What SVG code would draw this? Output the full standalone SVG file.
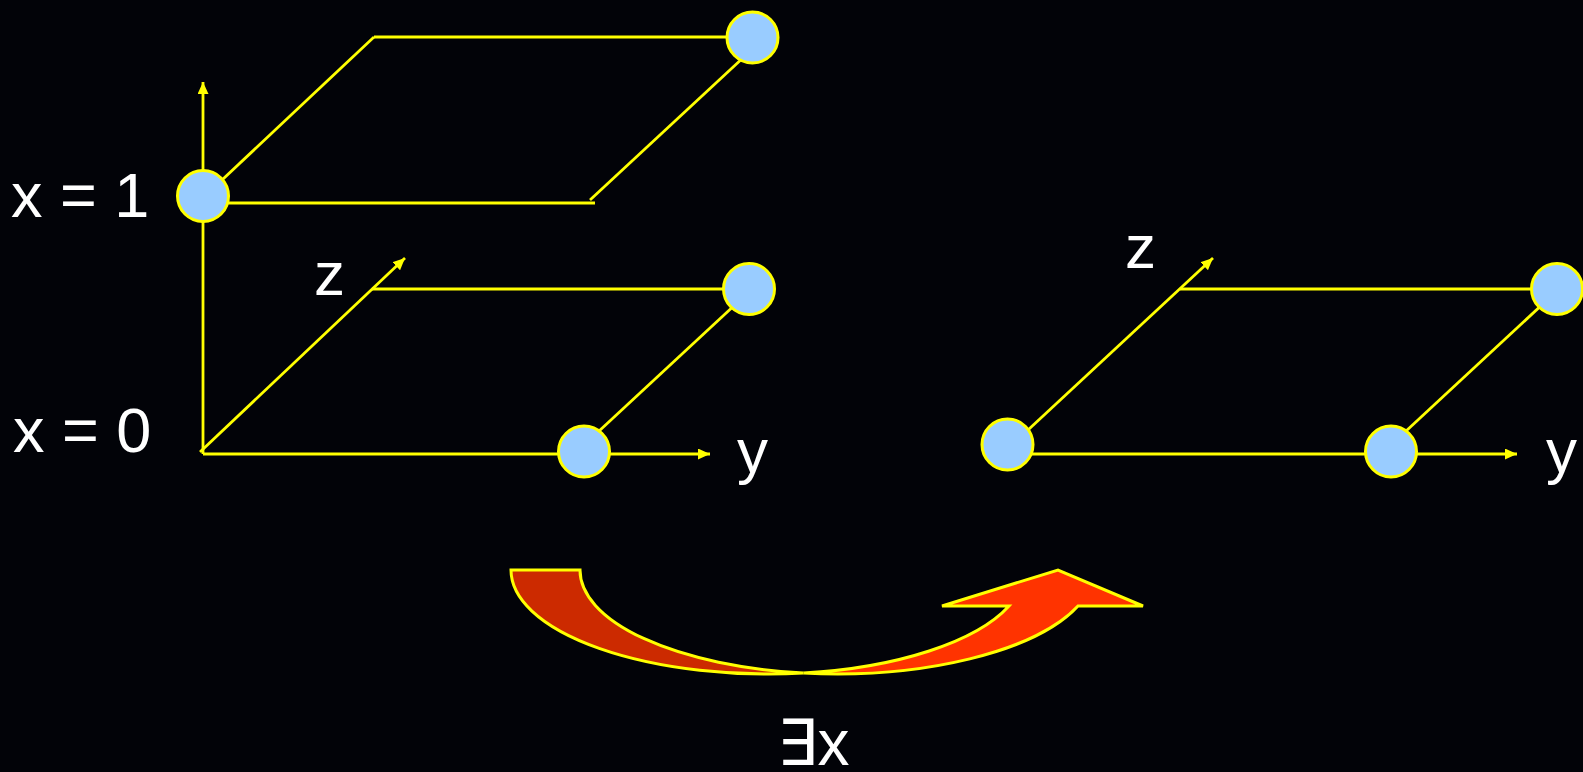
<svg xmlns="http://www.w3.org/2000/svg" width="1583" height="772" viewBox="0 0 1583 772">
<defs>
<marker id="ah" viewBox="0 0 12 11" markerWidth="12" markerHeight="11" refX="12" refY="5.5" orient="auto" markerUnits="userSpaceOnUse">
<path d="M0,0 L12,5.5 L0,11 Z" fill="#FFFF00"/>
</marker>
<style>
.ln{stroke:#FFFF00;stroke-width:2.8;fill:none}
.ax{stroke:#FFFF00;stroke-width:2.8;fill:none;marker-end:url(#ah)}
.nd{fill:#99CCFF;stroke:#FFFF00;stroke-width:3}
.lb{font-family:"Liberation Sans",Arial,sans-serif;fill:#FFFFFF}
.arr{stroke:#FFFF00;stroke-width:3;stroke-linejoin:miter}
</style>
</defs>
<rect width="1583" height="772" fill="#020308"/>
<g id="connectors">
<line class="ax" x1="203" y1="454" x2="203" y2="82"/>
<line class="ax" x1="203" y1="454" x2="710" y2="454"/>
<line class="ax" x1="200" y1="452" x2="405" y2="258"/>
<line class="ln" x1="372" y1="289" x2="749" y2="289"/>
<line class="ln" x1="584" y1="445" x2="752" y2="289"/>
<line class="ln" x1="205" y1="196" x2="374" y2="37"/>
<line class="ln" x1="374" y1="37" x2="752" y2="37"/>
<line class="ln" x1="590" y1="200" x2="745" y2="56"/>
<line class="ln" x1="203" y1="203" x2="595" y2="203"/>
<line class="ax" x1="1010" y1="454" x2="1517" y2="454"/>
<line class="ax" x1="1013" y1="444" x2="1213" y2="258"/>
<line class="ln" x1="1180" y1="289" x2="1557" y2="289"/>
<line class="ln" x1="1391" y1="445" x2="1559" y2="289"/>
</g>
<g id="node-x1"><circle class="nd" cx="203" cy="196" r="25.5"/></g>
<g id="node-top-right"><circle class="nd" cx="752.5" cy="37.5" r="25.5"/></g>
<g id="node-left-y"><circle class="nd" cx="584" cy="451.5" r="25.5"/></g>
<g id="node-left-yz"><circle class="nd" cx="749" cy="289" r="25.5"/></g>
<g id="node-right-origin"><circle class="nd" cx="1007.5" cy="444.5" r="25.5"/></g>
<g id="node-right-y"><circle class="nd" cx="1391" cy="451.5" r="25.5"/></g>
<g id="node-right-yz"><circle class="nd" cx="1557" cy="289" r="25.5"/></g>
<g id="labels">
<text class="lb" x="11" y="217" font-size="63">x = 1</text>
<text class="lb" x="13" y="452" font-size="63">x = 0</text>
<text class="lb" x="314" y="295" font-size="62">z</text>
<text class="lb" x="1125" y="268" font-size="62">z</text>
<text class="lb" x="737" y="472" font-size="62">y</text>
<text class="lb" x="1546" y="472" font-size="62">y</text>
</g>
<g id="exists-arrow">
<path class="arr" fill="#CC2A00" d="M511,570 L580,570 A258,104 0 0 0 803.5,673.1 A258,104 0 0 1 511,570 Z"/>
<path class="arr" fill="#FF3300" d="M803.5,673.1 A258,104 0 0 0 1078,606 L1143,606 L1058,570 L942,606 L1009,606 A258,104 0 0 1 803.5,673.1 Z"/>
<text class="lb" x="777" y="765" font-size="64"><tspan font-family="'Liberation Sans','DejaVu Sans',sans-serif">∃</tspan>x</text>
</g>
</svg>
